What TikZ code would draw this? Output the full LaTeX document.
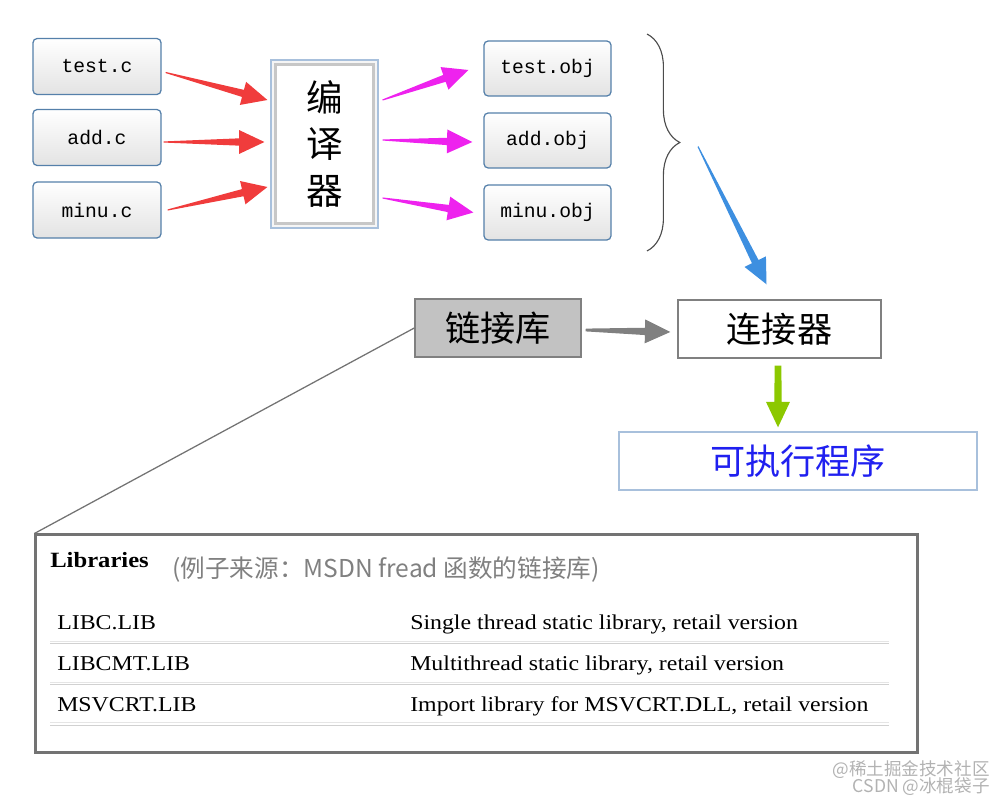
\documentclass[tikz,border=0pt]{standalone}
\usepackage{fontspec}
\setmainfont{Liberation Serif}
\newfontfamily\cjk{Noto Sans CJK SC}
\newfontfamily\codefont{Liberation Mono}
\newfontfamily\tabfont[FakeStretch=1.13]{Liberation Serif}
\usepackage{tikz}
\usetikzlibrary{calc}
\usetikzlibrary{decorations.pathreplacing}

\definecolor{srcline}{HTML}{5580AA}
\definecolor{redarr}{HTML}{F03C3C}
\definecolor{magarr}{HTML}{EE22EE}
\definecolor{bluearr}{HTML}{3D8FE0}
\definecolor{grayarr}{HTML}{808080}
\definecolor{greenarr}{HTML}{8CC800}
\definecolor{exeline}{HTML}{A8C0DC}
\definecolor{exetext}{HTML}{2020F0}

\newcommand\taper[4][0.4pt]{%
  \path ($(#4)!18pt!(#3)$) coordinate (hb);
  \fill[#2] ($(#3)!#1!90:(#4)$) -- ($(hb)!2.6pt!90:(#4)$) -- ($(hb)!8.5pt!90:(#4)$) -- (#4)
    -- ($(hb)!8.5pt!-90:(#4)$) -- ($(hb)!2.6pt!-90:(#4)$) -- ($(#3)!#1!-90:(#4)$) -- cycle;}

\begin{document}
\begin{tikzpicture}[x=0.025cm, y=-0.025cm,
    filebox/.style={draw=srcline, line width=0.9pt, rounded corners=3pt, top color=white, bottom color=black!11,
      minimum width=3.2cm, minimum height=1.4cm, inner sep=0pt, font=\codefont\fontsize{14}{16}\selectfont},
    bigbox/.style={line width=1pt, minimum height=1.45cm, inner sep=0pt, font=\cjk\fontsize{25}{30}\selectfont},
    rowtext/.style={inner sep=0pt, anchor=base west, font=\tabfont\fontsize{15}{18}\selectfont},
    sepline/.style={line width=0.7pt}]

  \useasboundingbox (0,0) rectangle (1006,806);

  \node[filebox] (src1) at (97, 66.5) {test.c};
  \node[filebox] (src2) at (97, 137.5) {add.c};
  \node[filebox] (src3) at (97, 210) {minu.c};

  \node[draw=exeline, fill=black!4, line width=0.8pt, minimum width=2.675cm, minimum height=4.2cm, inner sep=0pt] (cmp) at (324.5, 144) {};
  \draw[black!22, fill=white, line width=1.6pt] ([shift={(5,5)}]cmp.north west) rectangle ([shift={(-5,-5)}]cmp.south east);
  \node[align=center, inner sep=0pt, font=\cjk\fontsize{26}{33}\selectfont] (cmptext) at (cmp.center) {编\\译\\器};

  \node[filebox, minimum width=3.175cm, minimum height=1.375cm] (obj1) at (547.5, 68.5) {test.obj};
  \node[filebox, minimum width=3.175cm, minimum height=1.375cm] (obj2) at (547.5, 140.5) {add.obj};
  \node[filebox, minimum width=3.175cm, minimum height=1.375cm] (obj3) at (547.5, 212.5) {minu.obj};

  \coordinate (bt) at (647, 34);
  \coordinate (bb) at (647, 251);
  \draw[black!70, line width=0.8pt, decorate, decoration={brace, amplitude=0.82cm}] (bt) -- (bb);
  \coordinate (brtip) at (680, 142.5);

  \node[bigbox, draw=black!50, fill=black!24, minimum width=4.15cm] (lib) at (498, 328) {链接库};
  \node[bigbox, draw=black!50, fill=white, minimum width=5.075cm] (lnk) at (779.5, 329) {连接器};
  \node[bigbox, draw=exeline, fill=white, text=exetext, minimum width=8.95cm] (exe) at (798, 461) {可执行程序};

  \coordinate (r1a) at ($(src1.east)+(4,6)$);
  \coordinate (r1b) at ($(cmp.west)+(-3,-44)$);
  \coordinate (r2a) at ($(src2.east)+(2,4.5)$);
  \coordinate (r2b) at ($(cmp.west)+(-6,-2)$);
  \coordinate (r3a) at ($(src3.east)+(6,0)$);
  \coordinate (r3b) at ($(cmp.west)+(-3,43)$);
  \taper{redarr}{r1a}{r1b}
  \taper{redarr}{r2a}{r2b}
  \taper{redarr}{r3a}{r3b}

  \coordinate (m1a) at ($(cmp.east)+(4,-44)$);
  \coordinate (m1b) at ($(obj1.west)+(-15,1.5)$);
  \coordinate (m2a) at ($(cmp.east)+(4,-4)$);
  \coordinate (m2b) at ($(obj2.west)+(-11,1.5)$);
  \coordinate (m3a) at ($(cmp.east)+(4,54)$);
  \coordinate (m3b) at ($(obj3.west)+(-10,0)$);
  \taper{magarr}{m1a}{m1b}
  \taper{magarr}{m2a}{m2b}
  \taper{magarr}{m3a}{m3b}

  \coordinate (b1a) at ($(brtip)+(18,4)$);
  \coordinate (b1b) at ($(lnk.north)+(-13,-15)$);
  \taper{bluearr}{b1a}{b1b}

  \coordinate (g1a) at ($(lib.east)+(4,2)$);
  \coordinate (g1b) at ($(lnk.west)+(-7,3)$);
  \taper[1pt]{grayarr}{g1a}{g1b}

  \coordinate (v1a) at ($(lnk.south)+(-1.5,7)$);
  \coordinate (v1b) at ($(exe.north)+(-20,-4)$);
  \taper[2.4pt]{greenarr}{v1a}{v1b}

  \node[draw=black!55, line width=2.1pt, minimum width=22.025cm, minimum height=5.425cm, inner sep=0pt] (tbl) at (476.5, 643.5) {};
  \draw[black!55, line width=0.9pt] (lib.west) -- (tbl.north west);

  \node[inner sep=0pt, anchor=base west, font=\tabfont\bfseries\fontsize{15.5}{18}\selectfont] (libhdr) at (50, 567) {Libraries};
  \node[inner sep=0pt, anchor=base west, text=black!50, font=\cjk\fontsize{17.5}{20}\selectfont] (src) at (172, 577) {(例子来源：MSDN fread 函数的链接库)};

  \node[rowtext] (n1) at (57, 629) {LIBC.LIB};
  \node[rowtext] (d1) at (410, 629) {Single thread static library, retail version};
  \node[rowtext] (n2) at (57, 670) {LIBCMT.LIB};
  \node[rowtext] (d2) at (410, 670) {Multithread static library, retail version};
  \node[rowtext] (n3) at (57, 711) {MSVCRT.LIB};
  \node[rowtext] (d3) at (410, 711) {Import library for MSVCRT.DLL, retail version};

  \foreach \yy in {641, 682, 722.5} {
    \draw[sepline, black!10] (50, \yy) -- (889, \yy);
    \draw[sepline, black!18] (50, \yy+2.5) -- (889, \yy+2.5);
  }

  \node[inner sep=0pt, anchor=base east, text=black!30, font=\cjk\fontsize{12.5}{14}\selectfont] (wm1) at (990, 775) {@稀土掘金技术社区};
  \node[inner sep=0pt, anchor=base east, text=black!30, font=\cjk\fontsize{12.5}{14}\selectfont] (wm2) at (990, 792) {CSDN @冰棍袋子};
\end{tikzpicture}
\end{document}
